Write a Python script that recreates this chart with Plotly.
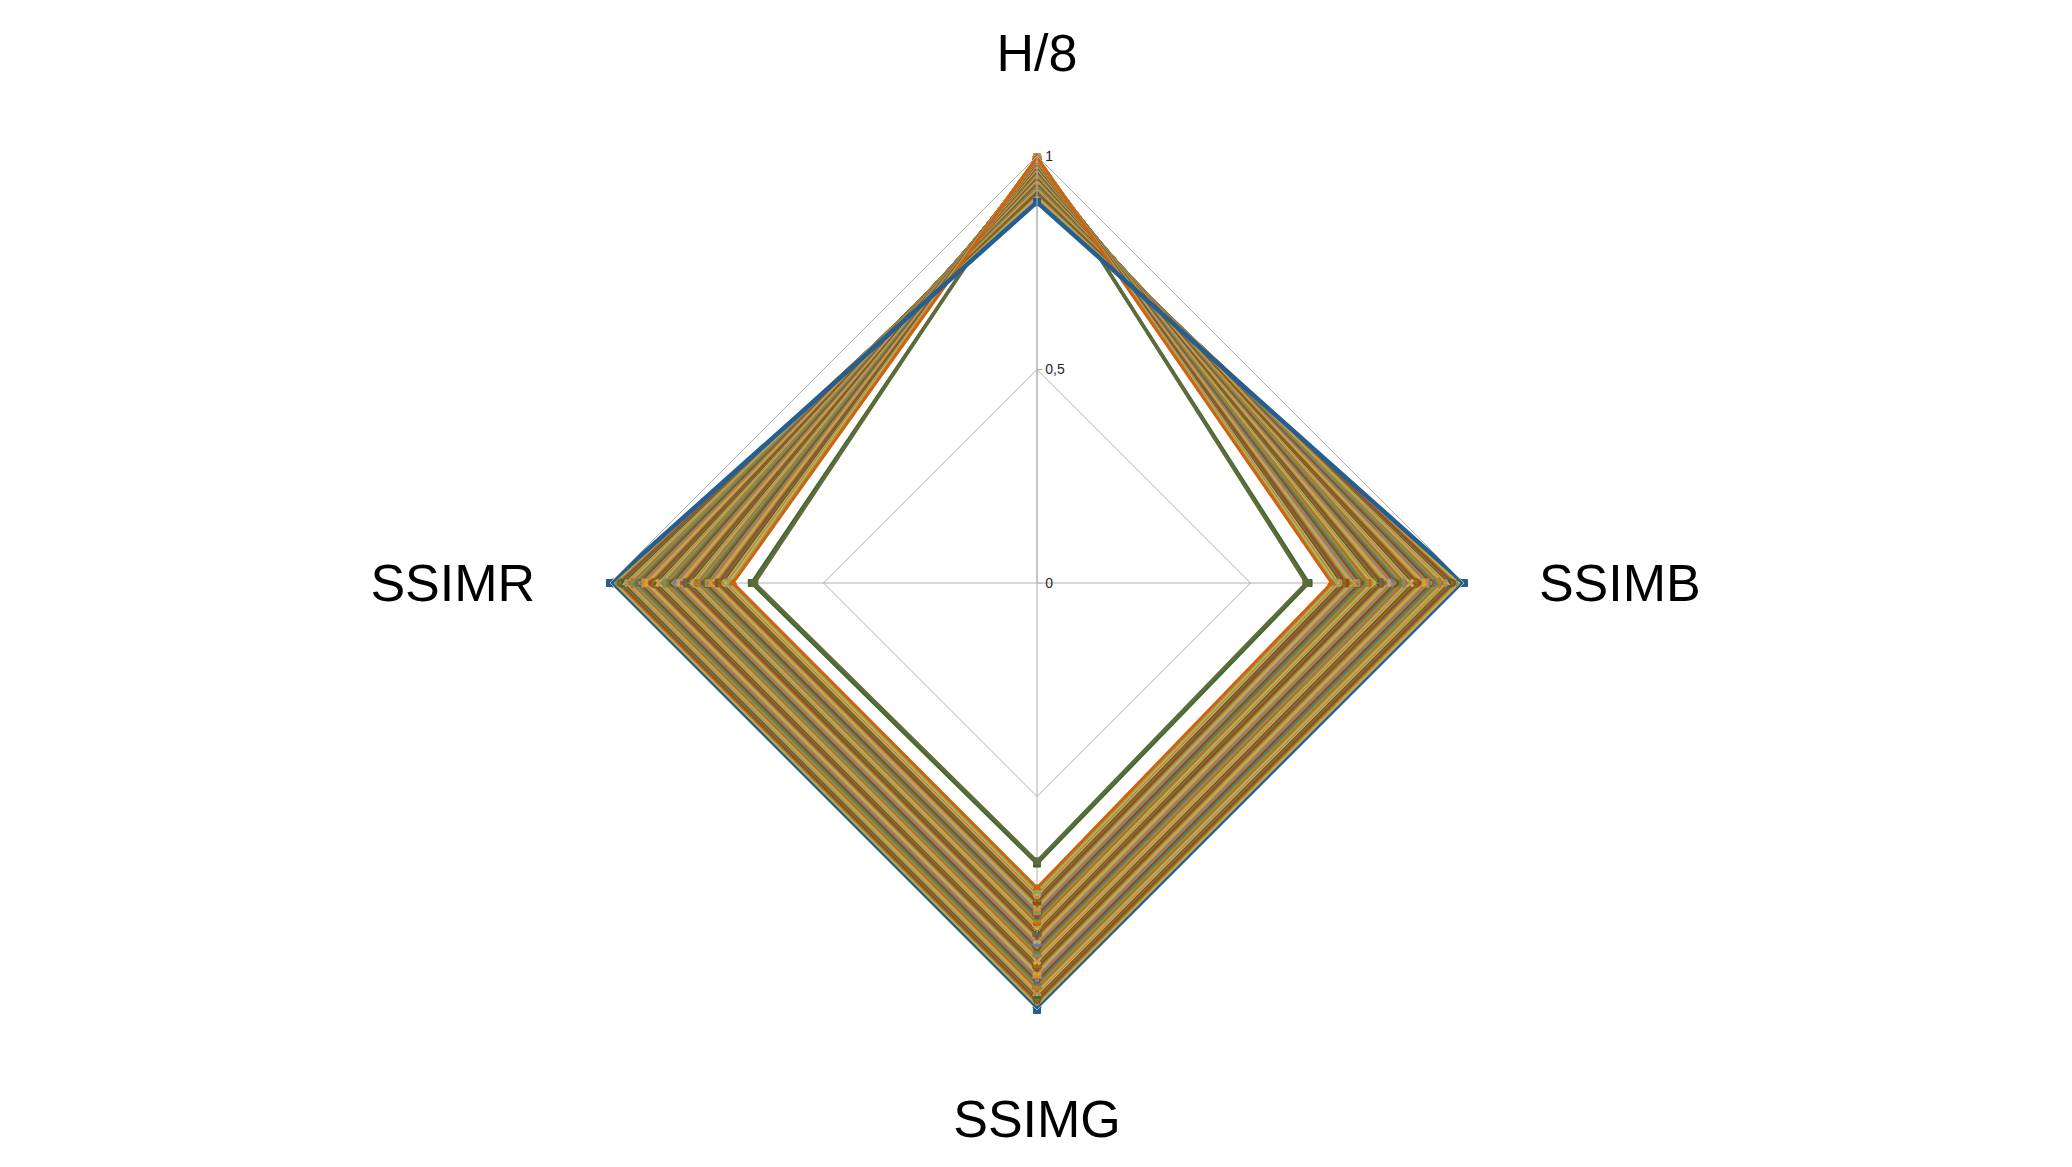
import plotly.graph_objects as go

categories = ["H/8", "SSIMB", "SSIMG", "SSIMR"]

# Outer series (all SSIM = 1)
outer_h8, outer_b, outer_g, outer_r = 0.892, 1.0, 1.0, 1.0
# Inner dark-green pair
inner_h8 = [0.990, 0.994]
inner_b = [0.636, 0.631]
inner_g = [0.657, 0.652]
inner_r = [0.668, 0.662]

# Main band
band_h8 = [0.903, 0.906, 0.909, 0.911, 0.914, 0.916, 0.918, 0.920, 0.922, 0.924,
           0.926, 0.928, 0.930, 0.931, 0.933, 0.935, 0.936, 0.938, 0.939, 0.941,
           0.942, 0.944, 0.945, 0.947, 0.948, 0.949, 0.951, 0.952, 0.953, 0.955,
           0.956, 0.957, 0.958, 0.960, 0.961, 0.962, 0.963, 0.964, 0.965, 0.967,
           0.968, 0.969, 0.970, 0.971, 0.972, 0.973, 0.974, 0.975, 0.976, 0.977,
           0.978, 0.979, 0.980, 0.981, 0.981, 0.982, 0.983, 0.984, 0.985, 0.985,
           0.986, 0.987, 0.988, 0.988, 0.989, 0.990, 0.990, 0.991, 0.992, 0.992,
           0.993, 0.993, 0.994, 0.994, 0.995, 0.995, 0.996, 0.996, 0.997, 0.997]
band_b = [0.991, 0.987, 0.983, 0.979, 0.976, 0.972, 0.968, 0.964, 0.960, 0.957,
          0.953, 0.949, 0.945, 0.941, 0.938, 0.934, 0.930, 0.926, 0.922, 0.919,
          0.915, 0.911, 0.907, 0.903, 0.900, 0.896, 0.892, 0.888, 0.884, 0.881,
          0.877, 0.873, 0.869, 0.865, 0.862, 0.858, 0.854, 0.850, 0.846, 0.843,
          0.839, 0.835, 0.831, 0.827, 0.824, 0.820, 0.816, 0.812, 0.808, 0.805,
          0.801, 0.797, 0.793, 0.789, 0.786, 0.782, 0.778, 0.774, 0.770, 0.767,
          0.763, 0.759, 0.755, 0.751, 0.748, 0.744, 0.740, 0.736, 0.732, 0.729,
          0.725, 0.721, 0.717, 0.713, 0.710, 0.706, 0.702, 0.698, 0.694, 0.690]
band_g = [0.993, 0.990, 0.986, 0.983, 0.979, 0.976, 0.972, 0.969, 0.965, 0.962,
          0.958, 0.955, 0.951, 0.948, 0.944, 0.941, 0.937, 0.934, 0.930, 0.927,
          0.923, 0.920, 0.916, 0.913, 0.909, 0.906, 0.902, 0.899, 0.895, 0.892,
          0.888, 0.885, 0.881, 0.878, 0.874, 0.871, 0.867, 0.864, 0.860, 0.857,
          0.853, 0.850, 0.846, 0.843, 0.839, 0.836, 0.832, 0.829, 0.825, 0.822,
          0.818, 0.815, 0.811, 0.808, 0.804, 0.801, 0.797, 0.794, 0.790, 0.787,
          0.783, 0.780, 0.776, 0.773, 0.769, 0.766, 0.762, 0.759, 0.755, 0.752,
          0.748, 0.745, 0.741, 0.738, 0.734, 0.731, 0.727, 0.723, 0.719, 0.714]
band_r = [0.993, 0.989, 0.986, 0.982, 0.979, 0.975, 0.972, 0.968, 0.965, 0.961,
          0.958, 0.954, 0.951, 0.947, 0.944, 0.940, 0.937, 0.933, 0.930, 0.926,
          0.923, 0.919, 0.916, 0.912, 0.909, 0.905, 0.902, 0.898, 0.895, 0.891,
          0.888, 0.884, 0.881, 0.877, 0.874, 0.870, 0.867, 0.863, 0.860, 0.856,
          0.853, 0.849, 0.846, 0.842, 0.839, 0.835, 0.832, 0.828, 0.825, 0.821,
          0.818, 0.814, 0.811, 0.807, 0.804, 0.800, 0.797, 0.793, 0.790, 0.786,
          0.783, 0.779, 0.776, 0.772, 0.769, 0.765, 0.762, 0.758, 0.755, 0.751,
          0.748, 0.744, 0.741, 0.737, 0.734, 0.730, 0.726, 0.722, 0.717, 0.712]

palette = ["#ED7D31", "#A5A5A5", "#E0A800", "#70AD47", "#C0504D", "#9E480E",
           "#636363", "#997300", "#43682B", "#F1975A", "#9A8A70", "#D9B030",
           "#8CA858", "#D26012", "#848484", "#B08A10", "#5A8A39", "#5E6FA8",
           "#7F6000", "#A33F20", "#8D9A4C", "#6A7F99"]
symbols = ["diamond", "square", "triangle-up", "x", "asterisk", "circle", "cross"]

th = categories + [categories[0]]
fig = go.Figure()


def add(h, b, g, r, col, sym, width):
    fig.add_trace(go.Scatterpolar(
        r=[h, b, g, r, h], theta=th, mode="lines+markers",
        line=dict(color=col, width=width),
        marker=dict(color=col, size=7, symbol=sym, line=dict(color=col, width=1)),
        showlegend=False, hoverinfo="skip"))


inner_cols = ["#43682B", "#5E6B3C"]
for i in range(len(inner_h8)):
    add(inner_h8[i], inner_b[i], inner_g[i], inner_r[i], inner_cols[i], "square", 3.5)

for i in range(len(band_h8)):
    add(band_h8[i], band_b[i], band_g[i], band_r[i],
        palette[i % len(palette)], symbols[i % len(symbols)], 3)

add(outer_h8, outer_b, outer_g, outer_r, "#255E91", "square", 4.5)

fig.update_layout(
    width=2072, height=1167,
    margin=dict(l=0, r=0, t=0, b=0),
    paper_bgcolor="white",
    font=dict(family="Liberation Sans, Arial, sans-serif", color="black"),
    polar=dict(
        domain=dict(x=[(1037 - 427) / 2072, (1037 + 427) / 2072],
                    y=[(1167 - 583 - 427) / 1167, (1167 - 583 + 427) / 1167]),
        bgcolor="white",
        gridshape="linear",
        radialaxis=dict(range=[0, 1], tickvals=[0, 0.5, 1],
                        ticktext=["0", "0,5", "1"], angle=90, tickangle=90,
                        side="clockwise",
                        showline=True, linecolor="#B0B0B0", linewidth=1,
                        gridcolor="#B0B0B0", gridwidth=1,
                        ticks="outside", ticklen=5, tickcolor="#B0B0B0",
                        tickfont=dict(size=14, color="#262626")),
        angularaxis=dict(type="category", categoryarray=categories,
                         direction="clockwise", rotation=90,
                         showline=True, linecolor="#B0B0B0", linewidth=1,
                         gridcolor="#B0B0B0", gridwidth=1,
                         ticks="outside", ticklen=64, tickcolor="rgba(0,0,0,0)",
                         tickfont=dict(size=52, color="black")),
    ),
)

fig.write_html("out.html")
